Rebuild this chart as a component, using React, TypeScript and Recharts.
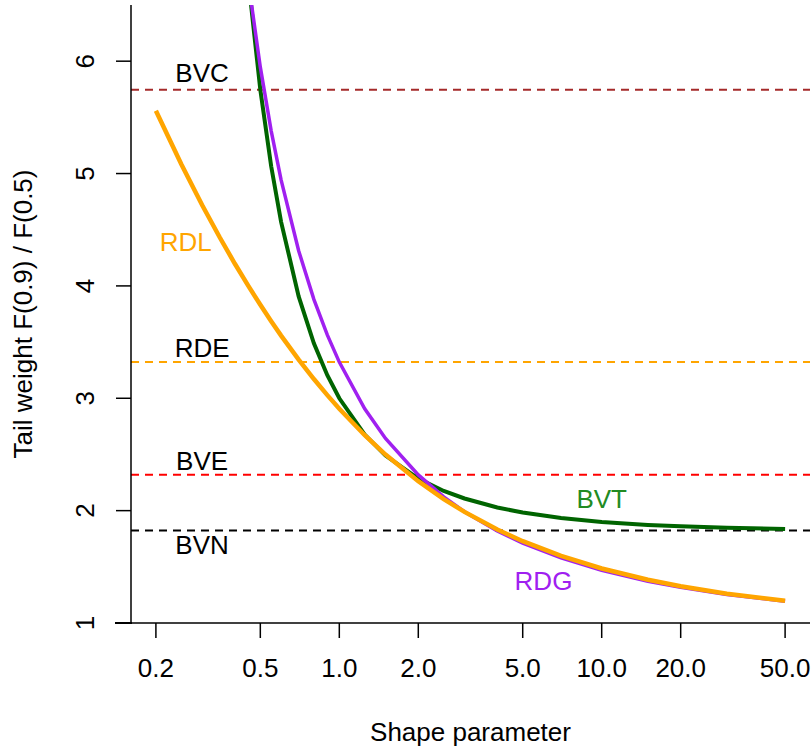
import React from "react";
import { Line, LineChart, ReferenceDot, ReferenceLine, XAxis, YAxis } from "recharts";

// shape parameter values (log x axis)
const shapes = [0.2, 0.25, 0.3, 0.35, 0.4, 0.45, 0.5, 0.55, 0.6, 0.7, 0.8, 0.9, 1, 1.25, 1.5, 2, 2.5, 3, 4, 5, 7, 10, 15, 20, 30, 50];

// tail weight F(0.9) / F(0.5)
const rdl = [5.559, 5.083, 4.72, 4.433, 4.197, 4.0, 3.832, 3.686, 3.558, 3.344, 3.171, 3.028, 2.907, 2.671, 2.499, 2.262, 2.103, 1.989, 1.832, 1.728, 1.597, 1.485, 1.385, 1.327, 1.261, 1.198];
const bvt = [null, null, null, null, null, 6.725, 5.745, 5.065, 4.57, 3.907, 3.489, 3.205, 3.0, 2.677, 2.49, 2.285, 2.175, 2.108, 2.028, 1.983, 1.934, 1.899, 1.873, 1.86, 1.848, 1.837];
const rdg = [null, null, null, null, null, 6.71, 5.947, 5.38, 4.943, 4.313, 3.88, 3.564, 3.322, 2.907, 2.642, 2.318, 2.123, 1.99, 1.819, 1.711, 1.579, 1.469, 1.372, 1.317, 1.254, 1.193];

// constant reference distributions
const refNames = ["BVC", "RDE", "BVE", "BVN"];
const refValues = [5.745, 3.322, 2.32, 1.823];
const refColors = ["#A52A2A", "#FFA500", "#FF0000", "#000000"];

const xTicks = [0.2, 0.5, 1, 2, 5, 10, 20, 50];
const xTickLabels = ["0.2", "0.5", "1.0", "2.0", "5.0", "10.0", "20.0", "50.0"];
const yTicks = [1, 2, 3, 4, 5, 6];

// text annotations, in data coordinates
const noteNames = ["BVC", "RDE", "BVE", "BVN", "RDL", "BVT", "RDG"];
const noteX = [0.3, 0.3, 0.3, 0.3, 0.26, 10, 6];
const noteY = [5.895, 3.447, 2.442, 1.694, 4.391, 2.104, 1.374];
const noteColors = ["#000000", "#000000", "#000000", "#000000", "#FFA500", "#228B22", "#A020F0"];

const xDomain = [0.16074, 62.21];
const yDomain = [1, 6.5];

const data = shapes.map((s, i) => ({ shape: s, rdl: rdl[i], bvt: bvt[i], rdg: rdg[i] }));

const axisStroke = { stroke: "#000", strokeWidth: 1.5 };

function YTick(props: any) {
  const { y, payload } = props;
  const cx = 85;
  return (
    <text
      x={cx}
      y={y}
      transform={`rotate(-90 ${cx} ${y})`}
      textAnchor="middle"
      dominantBaseline="central"
      fontSize={26}
      fill="#000"
    >
      {payload.value}
    </text>
  );
}

export default function App() {
  return (
    <div
      style={{
        position: "relative",
        width: 811,
        height: 746,
        background: "#fff",
        fontFamily: "'Liberation Sans', Arial, Helvetica, sans-serif",
      }}
    >
      <style>{"body{margin:0}"}</style>
      <LineChart width={811} height={746} data={data} margin={{ top: 5, right: 1, bottom: 0, left: 0 }}>
        <XAxis
          dataKey="shape"
          type="number"
          scale="log"
          domain={xDomain}
          allowDataOverflow
          ticks={xTicks}
          tickFormatter={(v) => xTickLabels[xTicks.indexOf(v)]}
          height={123}
          tickSize={15}
          tickMargin={21}
          axisLine={axisStroke}
          tickLine={axisStroke}
          tick={{ fill: "#000", fontSize: 26 }}
          label={{ value: "Shape parameter", position: "insideBottom", offset: 5, fill: "#000", fontSize: 26 }}
        />
        <XAxis
          xAxisId="top"
          orientation="top"
          type="number"
          scale="log"
          domain={xDomain}
          allowDataOverflow
          height={0}
          tick={false}
          tickLine={false}
          axisLine={axisStroke}
        />
        <YAxis
          type="number"
          domain={yDomain}
          allowDataOverflow
          ticks={yTicks}
          width={131}
          tickSize={15}
          axisLine={axisStroke}
          tickLine={axisStroke}
          tick={<YTick />}
          label={{
            content: (p: any) => {
              const vb = p.viewBox;
              const cx = vb.x + 23;
              const cy = vb.y + vb.height / 2;
              return (
                <text
                  x={cx}
                  y={cy}
                  transform={`rotate(-90 ${cx} ${cy})`}
                  textAnchor="middle"
                  dominantBaseline="central"
                  fontSize={26}
                  fill="#000"
                >
                  Tail weight F(0.9) / F(0.5)
                </text>
              );
            },
          }}
        />
        <YAxis
          yAxisId="right"
          orientation="right"
          type="number"
          domain={yDomain}
          allowDataOverflow
          width={0}
          tick={false}
          tickLine={false}
          axisLine={axisStroke}
        />

        {refValues.map((v, i) => (
          <ReferenceLine
            key={refNames[i]}
            y={v}
            stroke={refColors[i]}
            strokeWidth={2}
            strokeDasharray="8 6"
          />
        ))}

        <Line type="linear" dataKey="bvt" stroke="#006400" strokeWidth={4} dot={false} activeDot={false} isAnimationActive={false} />
        <Line type="linear" dataKey="rdg" stroke="#A020F0" strokeWidth={3.5} dot={false} activeDot={false} isAnimationActive={false} />
        <Line type="linear" dataKey="rdl" stroke="#FFA500" strokeWidth={4.5} dot={false} activeDot={false} isAnimationActive={false} />

        {noteNames.map((n, i) => (
          <ReferenceDot
            key={n}
            x={noteX[i]}
            y={noteY[i]}
            r={1}
            fill="none"
            stroke="none"
            label={{ value: n, position: "center", fill: noteColors[i], fontSize: 26 }}
          />
        ))}
      </LineChart>
      {/* bottom axis line runs a little past the left frame */}
      <div style={{ position: "absolute", left: 115, top: 622.25, width: 17, height: 1.5, background: "#000" }} />
    </div>
  );
}
